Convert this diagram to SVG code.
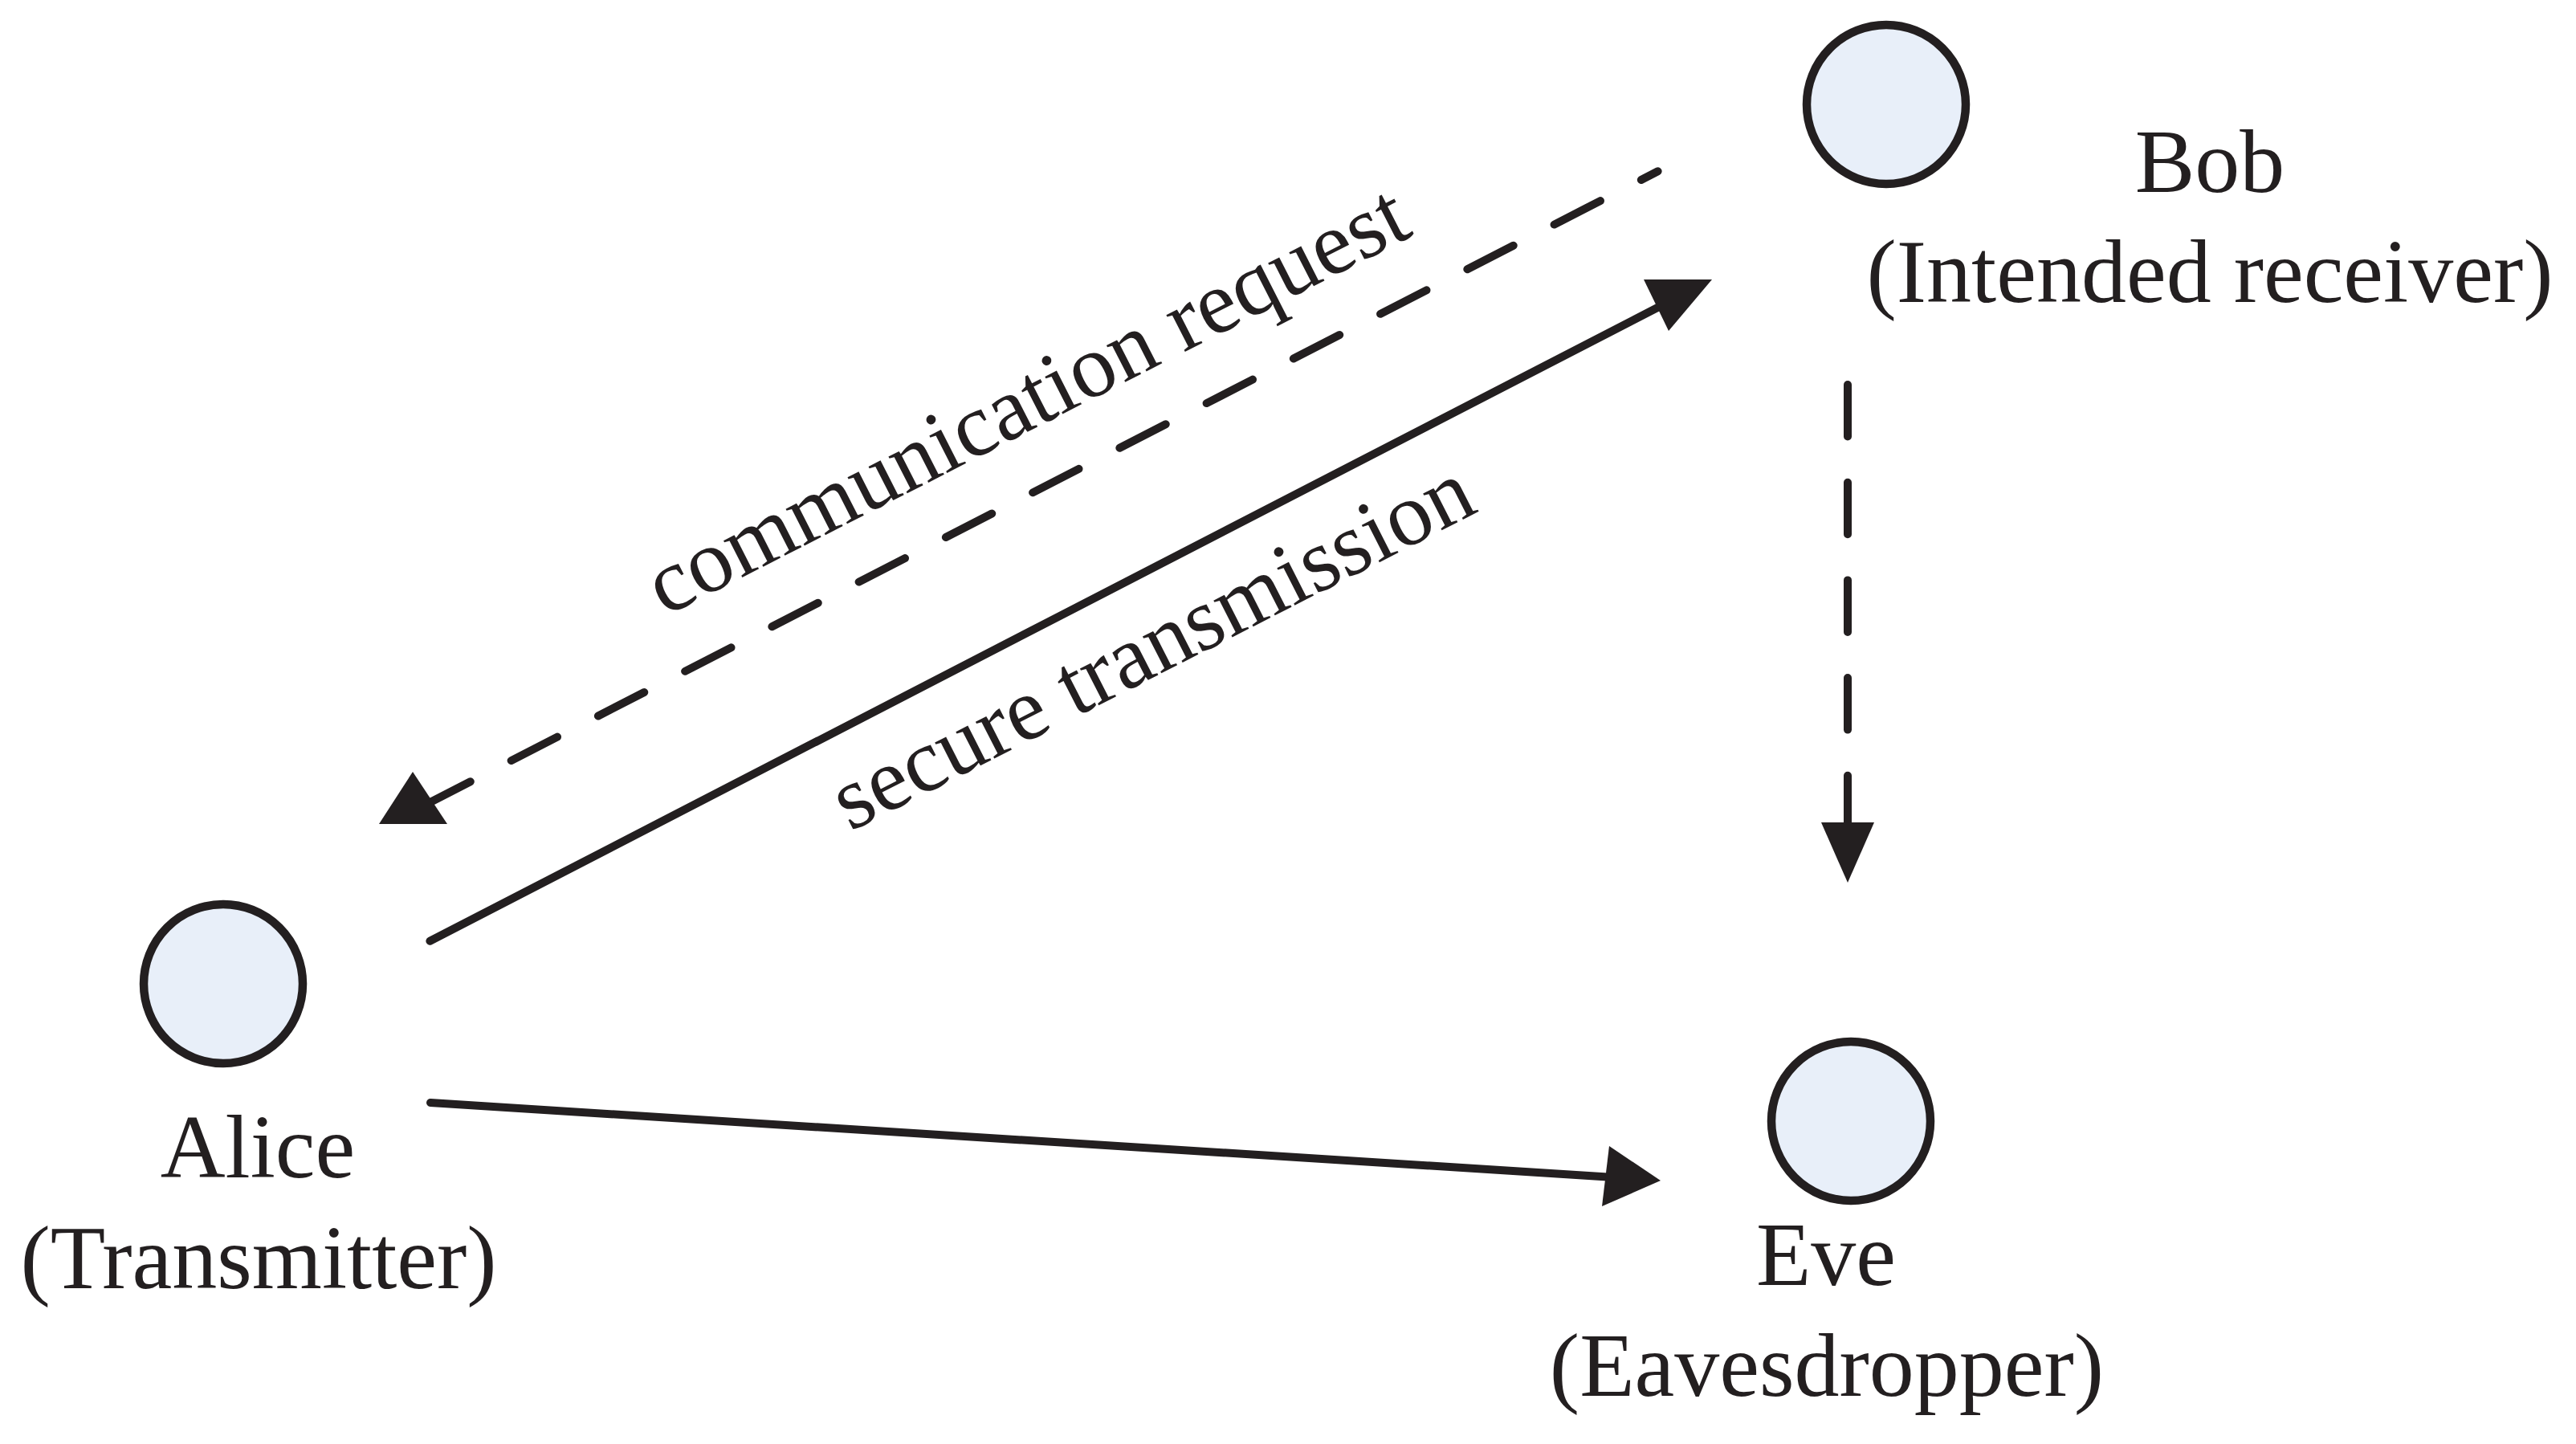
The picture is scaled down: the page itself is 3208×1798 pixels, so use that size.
<svg xmlns="http://www.w3.org/2000/svg" width="3208" height="1798" viewBox="0 0 3208 1798">
<style>
.node{fill:#e8eff9;stroke:#231f20;stroke-width:10.5}
.lbl{font-family:"Liberation Serif","Times New Roman",serif;font-size:112px;fill:#231f20;text-anchor:middle}
.ln{fill:none;stroke:#231f20;stroke-width:10;stroke-linecap:round}
.dash{stroke-dasharray:64.5 57.2}
.head{fill:#231f20;stroke:none}
</style>
<rect width="3208" height="1798" fill="#ffffff"/>
<g id="connectors">
<path class="ln dash" d="M528.4 1002.7 L2064.6 213.3"/>
<polygon class="head" points="472,1026 514,961 557,1026"/>
<path class="ln" d="M535.4 1171.7 L2070 380"/>
<polygon class="head" points="2132,348 2047,348 2078,412"/>
<path class="ln" d="M536 1373 L2010 1466"/>
<polygon class="head" points="2068,1470 2004,1427 1995,1502"/>
<path class="ln dash" d="M2301 479 L2301 1030"/>
<polygon class="head" points="2268,1024 2334,1024 2301,1099"/>
<text class="lbl" transform="translate(1295 530) rotate(-27)">communication request</text>
<text class="lbl" transform="translate(1451 836) rotate(-27)">secure transmission</text>
</g>
<g id="bob">
<circle class="node" cx="2349" cy="130" r="99"/>
<text class="lbl" x="2752" y="239">Bob</text>
<text class="lbl" x="2752" y="376">(Intended receiver)</text>
</g>
<g id="alice">
<circle class="node" cx="278" cy="1225" r="99"/>
<text class="lbl" x="321" y="1466">Alice</text>
<text class="lbl" x="322" y="1604">(Transmitter)</text>
</g>
<g id="eve">
<circle class="node" cx="2305" cy="1396" r="99"/>
<text class="lbl" x="2274" y="1600">Eve</text>
<text class="lbl" x="2275" y="1738">(Eavesdropper)</text>
</g>
</svg>
